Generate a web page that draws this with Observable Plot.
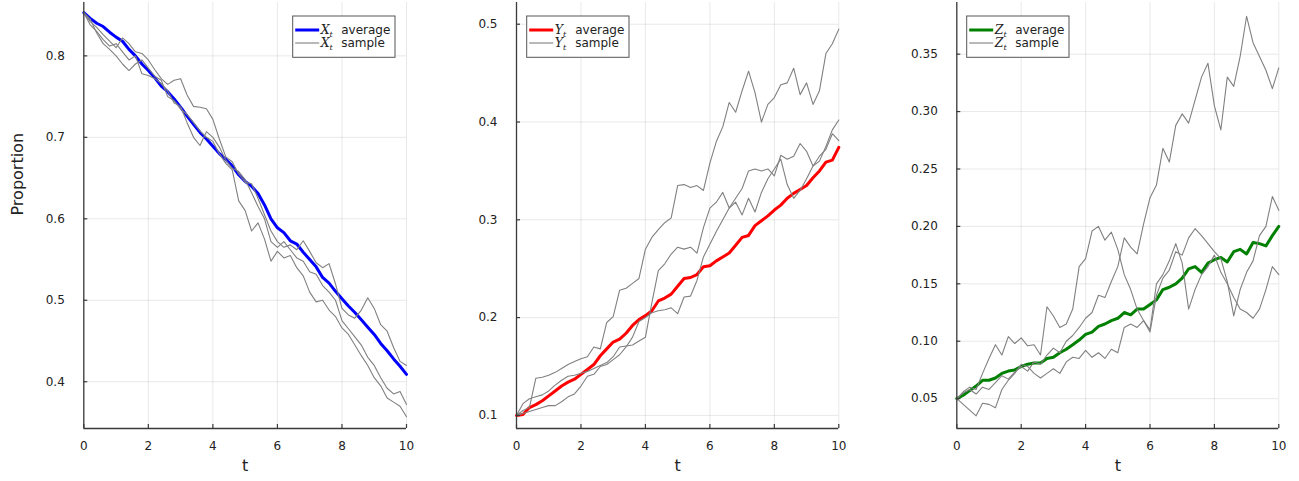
<!DOCTYPE html>
<html>
<head>
<meta charset="utf-8">
<script src="https://cdn.jsdelivr.net/npm/d3@7"></script>
<script src="https://cdn.jsdelivr.net/npm/@observablehq/plot@0.6"></script>
<style>
  html, body { margin: 0; padding: 0; background: #fff; }
  #wrap { position: relative; width: 1299px; height: 481px; background: #fff; overflow: hidden; }
  .panel { position: absolute; top: 0; }
</style>
</head>
<body>
<div id="wrap">
  <div class="panel" id="p1" style="left:0px"></div>
  <div class="panel" id="p2" style="left:430px"></div>
  <div class="panel" id="p3" style="left:869px"></div>
</div>
<script>
// time grid
const T = [0,0.2,0.4,0.6,0.8,1.0,1.2,1.4,1.6,1.8,2.0,2.2,2.4,2.6,2.8,3.0,3.2,3.4,3.6,3.8,
           4.0,4.2,4.4,4.6,4.8,5.0,5.2,5.4,5.6,5.8,6.0,6.2,6.4,6.6,6.8,7.0,7.2,7.4,7.6,7.8,
           8.0,8.2,8.4,8.6,8.8,9.0,9.2,9.4,9.6,9.8,10.0];

const xTicks = [0,2,4,6,8,10];

// Panel X
const xAvg = [0.853,0.846,0.840,0.836,0.829,0.823,0.818,0.808,0.800,0.790,0.782,0.773,0.763,0.756,0.747,0.737,0.726,0.716,0.706,0.698,
              0.689,0.680,0.673,0.665,0.654,0.646,0.640,0.631,0.617,0.600,0.589,0.583,0.573,0.569,0.559,0.550,0.541,0.528,0.521,0.511,
              0.502,0.493,0.485,0.476,0.467,0.458,0.447,0.438,0.428,0.419,0.409];
const xSampleA = [0.853,0.842,0.835,0.826,0.818,0.810,0.822,0.815,0.805,0.803,0.795,0.783,0.772,0.765,0.770,0.772,0.752,0.738,0.737,0.735,
                  0.722,0.698,0.676,0.670,0.655,0.645,0.643,0.625,0.605,0.585,0.572,0.565,0.568,0.562,0.573,0.560,0.546,0.540,0.545,0.520,
                  0.490,0.482,0.478,0.488,0.503,0.490,0.470,0.462,0.442,0.425,0.420];
const xSampleB = [0.853,0.838,0.830,0.820,0.812,0.815,0.805,0.795,0.800,0.778,0.776,0.772,0.766,0.757,0.742,0.738,0.718,0.700,0.690,0.707,
                  0.700,0.688,0.672,0.662,0.658,0.648,0.632,0.615,0.600,0.572,0.565,0.572,0.562,0.552,0.548,0.535,0.532,0.518,0.510,0.500,
                  0.475,0.465,0.455,0.445,0.430,0.420,0.405,0.392,0.385,0.388,0.372];
const xSampleC = [0.853,0.845,0.828,0.815,0.808,0.800,0.790,0.782,0.790,0.795,0.785,0.775,0.770,0.750,0.745,0.735,0.728,0.718,0.708,0.700,
                  0.695,0.680,0.668,0.660,0.622,0.610,0.585,0.595,0.575,0.548,0.560,0.552,0.555,0.540,0.530,0.510,0.498,0.500,0.488,0.480,
                  0.466,0.458,0.445,0.432,0.420,0.405,0.395,0.380,0.375,0.370,0.357];
const xTicksY = [0.4,0.5,0.6,0.7,0.8];

// Panel Y
const yAvg = [0.100,0.101,0.108,0.111,0.115,0.120,0.125,0.130,0.134,0.137,0.142,0.147,0.152,0.161,0.168,0.175,0.178,0.184,0.192,0.198,
              0.202,0.207,0.217,0.220,0.224,0.232,0.240,0.241,0.244,0.252,0.253,0.258,0.262,0.266,0.274,0.282,0.284,0.294,0.299,0.304,
              0.310,0.315,0.322,0.327,0.331,0.335,0.343,0.350,0.359,0.361,0.374];
const ySampleA = [0.100,0.105,0.108,0.138,0.139,0.141,0.144,0.148,0.152,0.155,0.158,0.160,0.170,0.168,0.195,0.201,0.228,0.230,0.235,0.240,
                  0.270,0.282,0.290,0.297,0.302,0.335,0.336,0.333,0.335,0.330,0.358,0.380,0.395,0.420,0.410,0.432,0.452,0.430,0.400,0.418,
                  0.425,0.438,0.440,0.455,0.428,0.440,0.418,0.432,0.470,0.480,0.495];
const ySampleB = [0.100,0.112,0.117,0.119,0.121,0.125,0.131,0.136,0.140,0.141,0.143,0.145,0.148,0.151,0.154,0.160,0.170,0.171,0.172,0.176,
                  0.180,0.215,0.248,0.255,0.265,0.272,0.270,0.272,0.266,0.292,0.312,0.318,0.328,0.312,0.322,0.332,0.350,0.352,0.350,0.352,
                  0.345,0.366,0.362,0.365,0.378,0.370,0.355,0.365,0.372,0.388,0.381];
const ySampleC = [0.100,0.102,0.104,0.106,0.108,0.110,0.110,0.114,0.119,0.122,0.130,0.140,0.142,0.150,0.152,0.157,0.162,0.170,0.180,0.196,
                  0.200,0.205,0.207,0.208,0.210,0.204,0.221,0.222,0.238,0.262,0.275,0.288,0.300,0.312,0.318,0.305,0.322,0.308,0.328,0.342,
                  0.352,0.362,0.336,0.322,0.330,0.342,0.355,0.360,0.375,0.392,0.402];
const yTicksY = [0.1,0.2,0.3,0.4,0.5];

// Panel Z
const zAvg = [0.050,0.053,0.057,0.061,0.066,0.066,0.068,0.072,0.074,0.075,0.078,0.080,0.081,0.081,0.085,0.086,0.090,0.093,0.097,0.101,
              0.106,0.108,0.113,0.115,0.118,0.120,0.125,0.123,0.128,0.128,0.132,0.136,0.145,0.147,0.150,0.155,0.163,0.165,0.160,0.168,
              0.171,0.173,0.169,0.178,0.180,0.176,0.186,0.185,0.183,0.192,0.200];
const zSampleA = [0.050,0.055,0.058,0.054,0.060,0.058,0.064,0.070,0.067,0.073,0.078,0.074,0.082,0.080,0.088,0.094,0.090,0.100,0.105,0.112,
                  0.120,0.125,0.140,0.138,0.152,0.165,0.190,0.182,0.176,0.202,0.225,0.236,0.268,0.256,0.288,0.298,0.290,0.310,0.330,0.342,
                  0.305,0.284,0.330,0.322,0.348,0.383,0.360,0.348,0.336,0.320,0.338];
const zSampleB = [0.050,0.056,0.060,0.058,0.072,0.085,0.097,0.088,0.104,0.098,0.103,0.096,0.097,0.088,0.130,0.122,0.112,0.115,0.128,0.165,
                  0.172,0.196,0.200,0.188,0.195,0.180,0.158,0.145,0.128,0.118,0.110,0.150,0.158,0.170,0.185,0.168,0.128,0.145,0.158,0.165,
                  0.175,0.160,0.150,0.138,0.128,0.125,0.120,0.128,0.145,0.165,0.158];
const zSampleC = [0.050,0.045,0.040,0.035,0.046,0.045,0.042,0.058,0.066,0.072,0.080,0.078,0.072,0.068,0.072,0.076,0.072,0.082,0.086,0.085,
                  0.092,0.086,0.090,0.085,0.093,0.090,0.112,0.115,0.112,0.118,0.108,0.140,0.155,0.162,0.178,0.175,0.190,0.198,0.192,0.185,
                  0.178,0.172,0.152,0.122,0.145,0.160,0.170,0.192,0.200,0.226,0.214];
const zTicksY = [0.05,0.10,0.15,0.20,0.25,0.30,0.35];

function toRows(vals) { return T.map((t, i) => ({t, v: vals[i]})); }

function panel(cfg) {
  const H = 481, mT = 2, mB = 53;
  const plotW = cfg.width - cfg.mL - cfg.mR;
  const plotH = H - mT - mB;
  const avgRows = toRows(cfg.avg);
  const sampleRows = cfg.samples.flatMap((s, k) => toRows(s).map(d => ({...d, s: k})));
  const axisColor = "#3a3a3a";
  const marks = [
    Plot.gridX(xTicks, {stroke: "#000", strokeOpacity: 0.09, strokeWidth: 1}),
    Plot.gridY(cfg.yTicks, {stroke: "#000", strokeOpacity: 0.09, strokeWidth: 1}),
    Plot.line(avgRows, {x: "t", y: "v", stroke: cfg.color, strokeWidth: 3}),
    Plot.line(sampleRows, {x: "t", y: "v", z: "s", stroke: "#808080", strokeWidth: 1.1}),
    Plot.ruleX([0], {stroke: axisColor, strokeWidth: 1.3}),
    Plot.ruleY([cfg.yDomain[0]], {stroke: axisColor, strokeWidth: 1.3}),
    Plot.tickX(xTicks, {x: d => d, insetTop: plotH - 4, stroke: axisColor, strokeWidth: 1.2}),
    Plot.tickY(cfg.yTicks, {y: d => d, insetRight: plotW - 4, stroke: axisColor, strokeWidth: 1.2}),
    Plot.axisX({ticks: xTicks, tickSize: 0, tickPadding: 13, tickFormat: d3.format("d"), label: null, fill: "#222"}),
    Plot.axisY({ticks: cfg.yTicks, tickSize: 0, tickPadding: 19, tickFormat: d3.format(cfg.fmt), label: null, fill: "#222"}),
    Plot.text(["t"], {text: d => d, frameAnchor: "bottom", dy: 42, fontSize: 16, fill: "#222"})
  ];
  if (cfg.ylabel) {
    marks.push(Plot.text([cfg.ylabel], {text: d => d, frameAnchor: "left", rotate: -90, dx: -66, fontSize: 16, fill: "#222"}));
  }
  const chart = Plot.plot({
    width: cfg.width, height: H,
    marginLeft: cfg.mL, marginRight: cfg.mR, marginTop: mT, marginBottom: mB,
    x: {domain: [0, 10]},
    y: {domain: cfg.yDomain},
    style: {fontFamily: "DejaVu Sans", fontSize: "12px", background: "white", color: "#222", overflow: "visible"},
    marks
  });
  document.getElementById(cfg.id).appendChild(chart);

  // legend
  const svg = d3.select(chart);
  const bx = cfg.legendX, by = 16, bw = 102.3, bh = 41.3;
  const g = svg.append("g").attr("text-anchor", "start");
  g.append("rect").attr("x", bx).attr("y", by).attr("width", bw).attr("height", bh)
    .attr("fill", "white").attr("stroke", "#555").attr("stroke-width", 1);
  const entries = [
    {label: "average", stroke: cfg.color, w: 3, y: by + 14},
    {label: "sample", stroke: "#808080", w: 1.1, y: by + 27}
  ];
  for (const e of entries) {
    g.append("line").attr("x1", bx + 2.5).attr("x2", bx + 26.5).attr("y1", e.y).attr("y2", e.y)
      .attr("stroke", e.stroke).attr("stroke-width", e.w);
    const tx = g.append("text").attr("x", bx + 28).attr("y", e.y + 4.2).attr("text-anchor", "start")
      .attr("font-family", "DejaVu Serif").attr("font-style", "italic").attr("font-size", 12.5).attr("fill", "#222");
    tx.append("tspan").text(cfg.name);
    tx.append("tspan").attr("font-size", 8).attr("dy", 2.5).text("t");
    g.append("text").attr("x", bx + 48.5).attr("y", e.y + 4.2).attr("text-anchor", "start")
      .attr("font-family", "DejaVu Sans").attr("font-size", 12).attr("fill", "#222").text(e.label);
  }
}

panel({id: "p1", width: 430, mL: 83.3, mR: 24, yDomain: [0.3426, 0.8655], yTicks: xTicksY, fmt: ".1f",
       avg: xAvg, samples: [xSampleA, xSampleB, xSampleC], color: "#0000ff", name: "X", ylabel: "Proportion", legendX: 292.7});
panel({id: "p2", width: 430, mL: 86, mR: 21.7, yDomain: [0.0866, 0.5222], yTicks: yTicksY, fmt: ".1f",
       avg: yAvg, samples: [ySampleA, ySampleB, ySampleC], color: "#ff0000", name: "Y", ylabel: null, legendX: 96.7});
panel({id: "p3", width: 430, mL: 87.3, mR: 20.7, yDomain: [0.0240, 0.395], yTicks: zTicksY, fmt: ".2f",
       avg: zAvg, samples: [zSampleA, zSampleB, zSampleC], color: "#008000", name: "Z", ylabel: null, legendX: 97.7});
</script>
</body>
</html>
